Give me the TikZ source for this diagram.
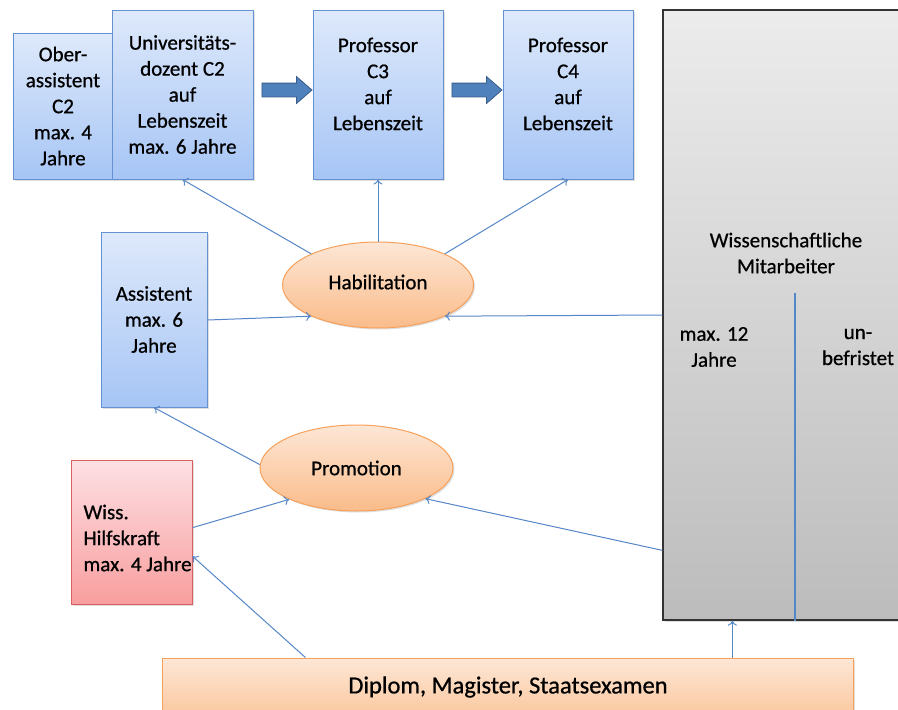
\documentclass[tikz,border=0pt]{standalone}
\usepackage{fontspec}
\setmainfont[FakeBold=0.7]{Carlito}
\usetikzlibrary{shapes.geometric,shapes.arrows,shadows,calc,arrows.meta}
\definecolor{bltop}{RGB}{222,233,251}
\definecolor{blbot}{RGB}{166,197,245}
\definecolor{bldraw}{RGB}{100,145,210}
\definecolor{ortop}{RGB}{253,231,214}
\definecolor{orbot}{RGB}{250,188,138}
\definecolor{ordraw}{RGB}{247,160,90}
\definecolor{rdtop}{RGB}{253,224,228}
\definecolor{rdbot}{RGB}{248,158,158}
\definecolor{rddraw}{RGB}{215,95,95}
\definecolor{grtop}{RGB}{236,236,236}
\definecolor{grbot}{RGB}{188,188,188}
\definecolor{conn}{RGB}{85,135,200}
\definecolor{arrfill}{RGB}{79,129,189}
\definecolor{arrdraw}{RGB}{56,93,138}
\begin{document}
\begin{tikzpicture}[x=1pt,y=-1pt,
  txt/.style={font=\fontsize{21}{26}\selectfont, align=center},
  shad/.style={drop shadow={opacity=0.25, shadow xshift=1.5pt, shadow yshift=-1.5pt}},
  bluebox/.style={shad, draw=bldraw, line width=1pt, top color=bltop, bottom color=blbot, inner sep=0pt, txt},
  redbox/.style={shad, draw=rddraw, line width=1pt, top color=rdtop, bottom color=rdbot, inner sep=0pt, txt},
  orell/.style={shad, ellipse, draw=ordraw, line width=1pt, top color=ortop, bottom color=orbot, inner sep=0pt, txt},
  orbox/.style={shad, draw=ordraw, line width=1pt, top color=ortop, bottom color=orbot, inner sep=0pt},
  greybox/.style={shad, draw=black!80, line width=1.3pt, top color=grtop, bottom color=grbot, inner sep=0pt},
  conline/.style={draw=conn, line width=1pt, -{To[length=5pt,width=9pt]}},
  blockarr/.style={single arrow, fill=arrfill, draw=arrdraw, line width=0.8pt, minimum height=50pt, minimum width=26pt, inner sep=6.5pt, single arrow head extend=6.5pt, single arrow tip angle=82}
]
\useasboundingbox (0,0) rectangle (898,710);
\clip (0,0) rectangle (898,710);
\fill[white] (0,0) rectangle (898,710);

% top row
\node[bluebox, minimum width=100pt, minimum height=146pt] (ober) at (63,106) {Ober-\\assistent\\C2\\max. 4\\Jahre};
\node[bluebox, minimum width=141pt, minimum height=169pt] (univ) at (182.5,94.5) {Universitäts-\\dozent C2\\auf\\Lebenszeit\\max. 6 Jahre};
\node[bluebox, minimum width=130pt, minimum height=169pt] (c3) at (378,94.5) {};
\node[txt] (c3t) at (378,84) {Professor\\C3\\auf\\Lebenszeit};
\node[bluebox, minimum width=130pt, minimum height=169pt] (c4) at (568,94.5) {};
\node[txt] (c4t) at (568,84) {Professor\\C4\\auf\\Lebenszeit};

\node[blockarr] (a1) at (283,90) {};
\node[blockarr] (a2) at (473,90) {};

% grey box
\node[greybox, minimum width=250pt, minimum height=610pt] (grey) at (788,315) {};
\draw[draw=conn, line width=1.2pt] (795,293) coordinate (dtop) -- (dtop |- grey.south);
\node[txt] (wm) at (786,253) {Wissenschaftliche\\Mitarbeiter};
\node[txt] (m12) at (714,347) {max. 12\\Jahre};
\node[txt] (unb) at (858,347) {un-\\befristet};

% middle
\node[orell, minimum width=191pt, minimum height=86pt] (hab) at (378,285) {};
\node[txt] (habt) at (378,282) {Habilitation};
\node[bluebox, minimum width=106pt, minimum height=175pt] (asst) at (154,319.5) {Assistent\\max. 6\\Jahre};
\node[orell, minimum width=193pt, minimum height=86pt] (prom) at (356.5,468) {Promotion};
\node[redbox, minimum width=121pt, minimum height=144pt, align=left] (hk) at (131.5,532) {};
\node[txt, align=left, anchor=west] (hkt) at (80,538) {Wiss.\\Hilfskraft\\max. 4 Jahre};

% bottom
\node[orbox, minimum width=691pt, minimum height=80pt] (dip) at (507.5,698) {};
\node[font=\fontsize{24.5}{28}\selectfont] (dipt) at (508,687) {Diplom, Magister, Staatsexamen};

% connectors
\draw[conline] (hab.155) -- (univ.south);
\draw[conline] (hab.north) -- (c3.south);
\draw[conline] (hab.25) -- (c4.south);
\draw[conline] (asst.east |- 0,320) -- (hab.205);
\draw[conline] (grey.west) -- (hab.335);
\draw[conline] (prom.178) -- (asst.south);
\draw[conline] ($(hk.north east)!0.47!(hk.south east)$) -- (prom.205);
\coordinate (g2) at ($(grey.north west)!0.885!(grey.south west)$);
\draw[conline] (g2) -- (prom.336);
\coordinate (b1) at ($(dip.north west)!0.208!(dip.north east)$);
\draw[conline] (b1) -- ($(hk.north east)!0.667!(hk.south east)$);
\coordinate (b2) at ($(dip.north west)!0.825!(dip.north east)$);
\draw[conline] (b2) -- (b2 |- grey.south);
\end{tikzpicture}
\end{document}
